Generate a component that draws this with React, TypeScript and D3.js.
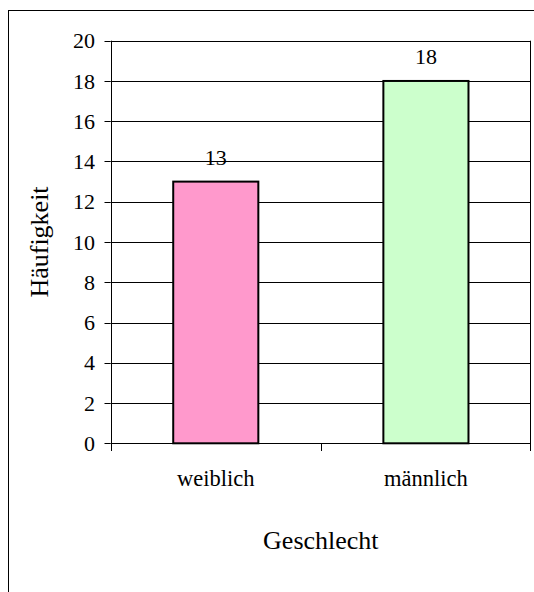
import React from "react";
import * as d3 from "d3";

const categories = ["weiblich", "männlich"];
const values = [13, 18];
const barColors = ["#FF99CC", "#CCFFCC"];
const yTicks = [0, 2, 4, 6, 8, 10, 12, 14, 16, 18, 20];
const yTitle = "Häufigkeit";
const xTitle = "Geschlecht";

export default function App() {
  const left = 110.7, right = 531, top = 40.7, bottom = 443.3;
  const y = d3.scaleLinear().domain([0, 20]).range([bottom, top]);
  const x = d3.scaleBand<string>().domain(categories).range([left, right]).padding(0);
  const bw = x.bandwidth() * 0.405;
  const font = "'Liberation Serif', 'Times New Roman', serif";
  const ts = { fontFamily: font };
  const boundaries = [left, ...categories.map((c) => (x(c) as number) + x.bandwidth())];
  return (
    <svg
      width={534}
      height={592}
      style={{ position: "absolute", left: 0, top: 0, background: "#fff" }}
    >
      <rect x={8.5} y={10.5} width={600} height={700} fill="#fff" stroke="#000" strokeWidth={1} />
      {yTicks.map((t) => (
        <g key={t}>
          {t > 0 && (
            <line x1={left} x2={right} y1={Math.round(y(t)) + 0.5} y2={Math.round(y(t)) + 0.5} stroke="#000" strokeWidth={1} />
          )}
          <line x1={104.5} x2={left} y1={Math.round(y(t)) + 0.5} y2={Math.round(y(t)) + 0.5} stroke="#000" strokeWidth={1} />
          <text x={95} y={y(t)} dy="0.35em" textAnchor="end" fontSize={22} fill="#000" style={ts}>
            {t}
          </text>
        </g>
      ))}
      <line x1={right - 0.5} x2={right - 0.5} y1={top} y2={bottom} stroke="#000" strokeWidth={1} />
      {categories.map((c, i) => {
        const cx = (x(c) as number) + x.bandwidth() / 2;
        return (
          <g key={c}>
            <rect
              x={cx - bw / 2}
              y={y(values[i])}
              width={bw}
              height={bottom - y(values[i])}
              fill={barColors[i]}
              stroke="#000"
              strokeWidth={2}
            />
            <text x={cx} y={y(values[i]) - 17} textAnchor="middle" fontSize={22} fill="#000" style={ts}>
              {values[i]}
            </text>
            <text x={cx} y={486} textAnchor="middle" fontSize={22.5} fill="#000" style={ts}>
              {c}
            </text>
          </g>
        );
      })}
      <line x1={left} x2={right} y1={Math.round(bottom) + 0.5} y2={Math.round(bottom) + 0.5} stroke="#000" strokeWidth={1} />
      <line x1={Math.round(left) + 0.5} x2={Math.round(left) + 0.5} y1={top} y2={bottom} stroke="#000" strokeWidth={1} />
      {boundaries.map((b, i) => (
        <line key={i} x1={Math.round(b) - (i === boundaries.length - 1 ? 0.5 : -0.5)} x2={Math.round(b) - (i === boundaries.length - 1 ? 0.5 : -0.5)} y1={bottom} y2={451} stroke="#000" strokeWidth={1} />
      ))}
      <text x={(left + right) / 2} y={549} textAnchor="middle" fontSize={26} fill="#000" style={ts}>
        {xTitle}
      </text>
      <text
        transform={`translate(48, ${(top + bottom) / 2}) rotate(-90)`}
        textAnchor="middle"
        fontSize={26}
        fill="#000"
        style={ts}
      >
        {yTitle}
      </text>
    </svg>
  );
}
